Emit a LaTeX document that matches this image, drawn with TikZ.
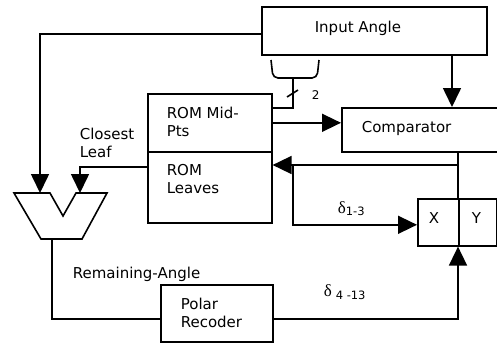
\documentclass[tikz,border=0pt]{standalone}
\usepackage{fontspec}
\setmainfont{DejaVu Sans}
\newfontfamily\deltafont{Liberation Serif}
\usetikzlibrary{arrows.meta}
\begin{document}
\begin{tikzpicture}[x=1bp,y=-1bp,
  line width=1.6bp,
  box/.style={draw, rectangle, inner sep=0pt, anchor=north west},
  lbl/.style={inner sep=0pt, anchor=base west, font=\fontsize{15bp}{18bp}\selectfont},
  small/.style={inner sep=0pt, anchor=base west, font=\fontsize{12bp}{14bp}\selectfont},
  arr/.style={-{Triangle[length=19bp,width=18bp]}},
]
\useasboundingbox (0,0) rectangle (497,346);
\clip (0,0) rectangle (497,346);
% boxes
\node[box, minimum width=225bp, minimum height=48bp] (inp) at (261,6) {};
\node[box, minimum width=124bp, minimum height=58bp] (romA) at (147,93) {};
\node[box, minimum width=124bp, minimum height=71bp] (romB) at (147,151) {};
\node[box, minimum width=170bp, minimum height=44bp] (cmp) at (341,107) {};
\node[box, minimum width=41bp, minimum height=47bp] (nx) at (417,198) {};
\node[box, minimum width=38bp, minimum height=47bp] (ny) at (458,198) {};
\node[box, minimum width=112bp, minimum height=57bp] (pol) at (160,284) {};
% mux
\coordinate (m1) at (14,193);
\coordinate (v1) at (50,193);
\coordinate (v2) at (63,216);
\coordinate (v3) at (76,193);
\coordinate (m2) at (107,193);
\coordinate (m3) at (82,239);
\coordinate (m4) at (41,239);
\draw[line join=miter] (m1) -- (v1) -- (v2) -- (v3) -- (m2) -- (m3) -- (m4) -- cycle;
\coordinate (muxA) at (40,193);
\coordinate (muxB) at (80,193);
\coordinate (muxO) at (52,239);
% helper coordinates
\coordinate (c452) at (452,0);
\coordinate (bc) at (293,78);
\coordinate (h1) at (457,165);
\coordinate (h2) at (293,165);
% connectors
\draw[arr] ([yshift=-3bp]inp.west) -| (muxA);
\draw[arr] ([yshift=20.5bp]romB.west) -| (muxB);
\draw[rounded corners=5bp] (271,60) -- (273,78) -- (317,78) -- (319,60);
\draw (bc) |- ([yshift=15bp]romA.east);
\draw (287,97) -- (298,90);
\draw[arr] (romA.east) -- (romA.east -| cmp.west);
\draw[arr] (inp.south -| c452) -- (cmp.north -| c452);
\draw (cmp.south -| ny.west) -- (ny.north west);
\draw[arr] (h1) -- (h1 -| romB.east);
\draw[arr] (h2) |- ([yshift=-2.5bp]nx.west);
\draw[arr] ([yshift=-5.5bp]pol.east) -| (ny.south west);
\draw (muxO) |- ([yshift=-5.5bp]pol.west);
% labels
\node[lbl] (tinp) at (314,32) {Input Angle};
\node[lbl] (trA1) at (166,118) {ROM Mid-};
\node[lbl] (trA2) at (166,136) {Pts};
\node[lbl] (trB1) at (166,175) {ROM};
\node[lbl] (trB2) at (166,193) {Leaves};
\node[lbl] (tcl1) at (79,139) {Closest};
\node[lbl] (tcl2) at (79,157) {Leaf};
\node[lbl] (tcmp) at (361,132) {Comparator};
\node[lbl] (tx) at (428,223) {X};
\node[lbl] (ty) at (471,223) {Y};
\node[lbl] (trem) at (72,278) {Remaining-Angle};
\node[lbl] (tp1) at (180,309) {Polar};
\node[lbl] (tp2) at (180,327) {Recoder};
\node[small] (t2) at (311,99) {2};
\node[lbl] (td1) at (337,213) {{\deltafont\fontsize{17bp}{17bp}\selectfont δ}\raisebox{-2bp}{\fontsize{11.5bp}{13bp}\selectfont 1-3}};
\node[lbl] (td2) at (323,296) {{\deltafont\fontsize{17bp}{17bp}\selectfont δ}\hspace{4bp}\raisebox{-3bp}{\fontsize{11.5bp}{13bp}\selectfont 4 -13}};
\end{tikzpicture}
\end{document}
